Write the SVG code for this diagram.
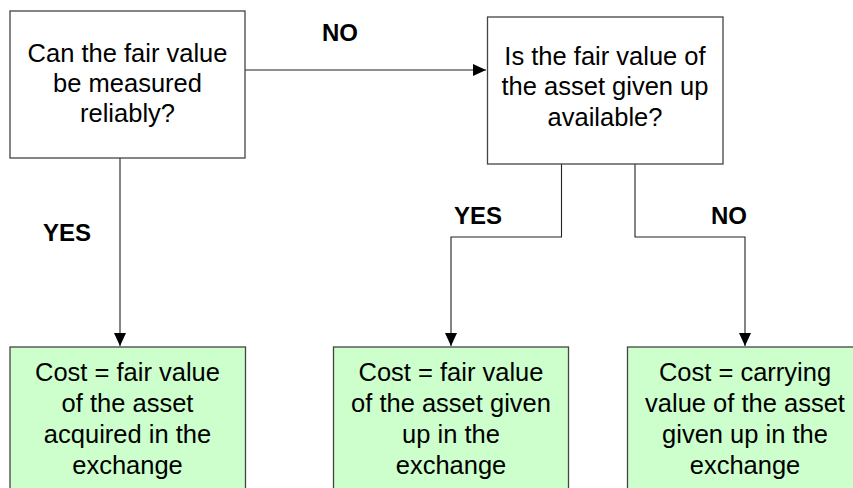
<svg xmlns="http://www.w3.org/2000/svg" width="853" height="488" viewBox="0 0 853 488">
<style>
.box{fill:#ffffff;stroke:#444;stroke-width:1.3}
.res{fill:#ccffcc;stroke:#444;stroke-width:1.3}
.t{font-family:"Liberation Sans",Arial,sans-serif;font-size:25.5px;fill:#000;text-anchor:middle}
.lbl{font-family:"Liberation Sans",Arial,sans-serif;font-size:24px;font-weight:bold;fill:#000;text-anchor:middle}
.c{fill:none;stroke:#222;stroke-width:1.1}
</style>
<defs>
<marker id="ah" markerUnits="userSpaceOnUse" markerWidth="14" markerHeight="12" refX="13" refY="6" orient="auto">
<path d="M0,0 L13,6 L0,12 Z" fill="#000"/>
</marker>
</defs>
<rect width="853" height="488" fill="#fff"/>
<g id="connectors">
<path class="c" d="M245,70 H486" marker-end="url(#ah)"/>
<path class="c" d="M120,158 V346" marker-end="url(#ah)"/>
<path class="c" d="M561.5,164 V237 H451 V346" marker-end="url(#ah)"/>
<path class="c" d="M635,164 V237 H745 V346" marker-end="url(#ah)"/>
<text class="lbl" x="340" y="41">NO</text>
<text class="lbl" x="67" y="241">YES</text>
<text class="lbl" x="478" y="224">YES</text>
<text class="lbl" x="729" y="224">NO</text>
</g>
<g id="q1">
<rect class="box" x="10" y="11" width="235" height="147"/>
<text class="t" x="127.5" y="62">Can the fair value</text>
<text class="t" x="127.5" y="92">be measured</text>
<text class="t" x="127.5" y="122">reliably?</text>
</g>
<g id="q2">
<rect class="box" x="487.5" y="17" width="235.5" height="147"/>
<text class="t" x="605" y="65">Is the fair value of</text>
<text class="t" x="605" y="95">the asset given up</text>
<text class="t" x="605" y="126">available?</text>
</g>
<g id="r1">
<rect class="res" x="10" y="347" width="235.5" height="160"/>
<text class="t" x="127.5" y="381">Cost = fair value</text>
<text class="t" x="127.5" y="412">of the asset</text>
<text class="t" x="127.5" y="443">acquired in the</text>
<text class="t" x="127.5" y="474">exchange</text>
</g>
<g id="r2">
<rect class="res" x="333.5" y="347" width="235" height="160"/>
<text class="t" x="451" y="381">Cost = fair value</text>
<text class="t" x="451" y="412">of the asset given</text>
<text class="t" x="451" y="443">up in the</text>
<text class="t" x="451" y="474">exchange</text>
</g>
<g id="r3">
<rect class="res" x="627.5" y="347" width="235" height="160"/>
<text class="t" x="745" y="381">Cost = carrying</text>
<text class="t" x="745" y="412">value of the asset</text>
<text class="t" x="745" y="443">given up in the</text>
<text class="t" x="745" y="474">exchange</text>
</g>
</svg>
